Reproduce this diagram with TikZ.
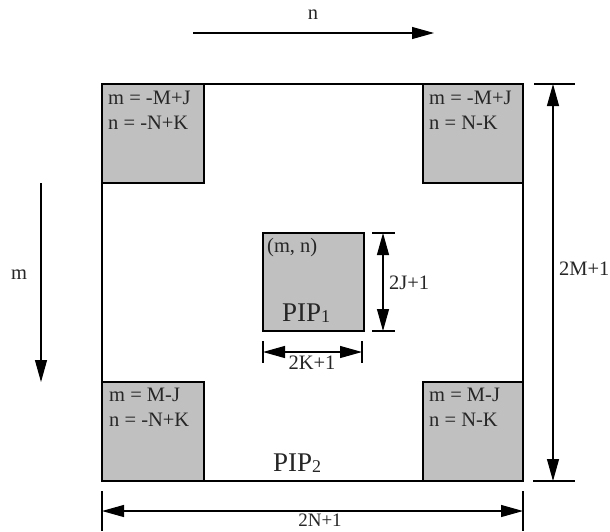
\documentclass[tikz,border=0pt]{standalone}
\usepackage{fontspec}
\setmainfont{Liberation Serif}
\usetikzlibrary{arrows.meta}
\definecolor{boxgray}{RGB}{192,192,192}
\tikzset{
  pbox/.style={draw=black, line width=1.3pt, fill=boxgray, inner sep=0pt, outer sep=0pt, anchor=north west},
  frame/.style={draw=black, line width=1.3pt, inner sep=0pt, outer sep=0pt, anchor=north west},
  lbl/.style={font=\fontsize{20.5}{25}\selectfont, inner sep=0pt, text=black!85},
  cornertxt/.style={lbl, align=left, anchor=north west},
  dimline/.style={line width=1.1pt, {Triangle[length=22pt,width=12pt]}-{Triangle[length=22pt,width=12pt]}},
  onearrow/.style={line width=1.1pt, -{Triangle[length=22pt,width=12pt]}},
  tick/.style={line width=1.1pt}
}
\begin{document}
\begin{tikzpicture}[x=1pt,y=-1pt]
\useasboundingbox (0,0) rectangle (610,531);
\fill[white] (0,0) rectangle (610,531);
% main frame
\node[frame, minimum width=421, minimum height=397] (main) at (102,84) {};
% corner boxes
\node[pbox, minimum width=102, minimum height=99] (tl) at (102,84) {};
\node[pbox, minimum width=100, minimum height=99] (tr) at (423,84) {};
\node[pbox, minimum width=102, minimum height=99] (bl) at (102,382) {};
\node[pbox, minimum width=100, minimum height=99] (br) at (423,382) {};
\node[pbox, minimum width=101, minimum height=98] (pip) at (263,233) {};
% corner texts
\node[cornertxt] (tltxt) at (108,91) {m = -M+J\\n = -N+K};
\node[cornertxt] (trtxt) at (429,91) {m = -M+J\\n = N-K};
\node[cornertxt] (bltxt) at (109,388) {m = M-J\\n = -N+K};
\node[cornertxt] (brtxt) at (429,388) {m = M-J\\n = N-K};
% center texts
\node[lbl, anchor=west] (mn) at (267,248) {(m, n)};
\node[lbl, font=\fontsize{27}{27}\selectfont, anchor=base west] (pip1) at (282,321) {PIP{\fontsize{18}{18}\selectfont\raisebox{-1pt}{1}}};
\node[lbl, font=\fontsize{27}{27}\selectfont, anchor=base west] (pip2) at (273,471) {PIP{\fontsize{18}{18}\selectfont\raisebox{-1pt}{2}}};
% direction arrows
\coordinate (nA) at (193,33); \coordinate (nB) at (434,33);
\draw[onearrow] (nA) -- (nB);
\node[lbl] (nlbl) at (313,15) {n};
\coordinate (mA) at (41,183); \coordinate (mB) at (41,382);
\draw[onearrow] (mA) -- (mB);
\node[lbl] (mlbl) at (19,275) {m};
% outer right dimension 2M+1
\coordinate (rT) at (553,84); \coordinate (rB) at (553,481);
\draw[tick] (534,84) -- (575,84);
\draw[tick] (533,481) -- (575,481);
\draw[dimline] (rT) -- (rB);
\node[lbl, anchor=west] (m2) at (559,269) {2M+1};
% outer bottom dimension 2N+1
\coordinate (bL) at (102,511); \coordinate (bR) at (523,511);
\draw[tick] (102,491) -- (102,531);
\draw[tick] (523,491) -- (523,531);
\draw[dimline] (bL) -- (bR);
\node[lbl, font=\fontsize{19}{19}\selectfont, anchor=north] (n2) at (320,513.5) {2N+1};
% inner right dimension 2J+1
\coordinate (jT) at (383,233); \coordinate (jB) at (383,331);
\draw[tick] (372,233) -- (395,233);
\draw[tick] (372,331) -- (395,331);
\draw[dimline] (jT) -- (jB);
\node[lbl, anchor=west] (j2) at (389,283) {2J+1};
% inner bottom dimension 2K+1
\coordinate (kL) at (263,352); \coordinate (kR) at (362,352);
\draw[tick] (263,341) -- (263,363);
\draw[tick] (362,341) -- (362,363);
\draw[dimline] (kL) -- (kR);
\node[lbl, anchor=north] (k2) at (312,356) {2K+1};
\end{tikzpicture}
\end{document}
